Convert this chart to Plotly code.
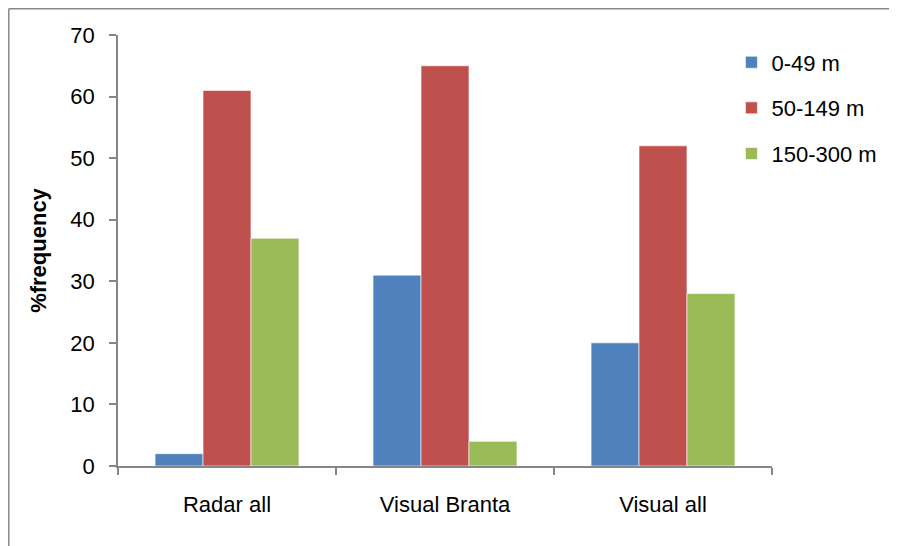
import plotly.graph_objects as go

categories = ["Radar all", "Visual Branta", "Visual all"]
series_names = ["0-49 m", "50-149 m", "150-300 m"]
v_0_49 = [2, 31, 20]
v_50_149 = [61, 65, 52]
v_150_300 = [37, 4, 28]
colors = ["#4F81BD", "#C0504D", "#9BBB59"]
y_ticks = [0, 10, 20, 30, 40, 50, 60, 70]

FONT = "Liberation Sans, Arial, sans-serif"
fig = go.Figure()
for i, (name, vals) in enumerate(zip(series_names, [v_0_49, v_50_149, v_150_300])):
    fig.add_trace(go.Bar(
        x=categories, y=vals, name=name, legendgroup=name,
        marker=dict(color=colors[i], line=dict(color="rgba(255,255,255,0.6)", width=1)),
    ))

fig.update_layout(
    width=897, height=546,
    margin=dict(l=110, r=133, t=27, b=88),
    paper_bgcolor="white", plot_bgcolor="white",
    barmode="group", bargap=0.34, bargroupgap=0,
    font=dict(family=FONT, size=22, color="black"),
    legend=dict(x=0.938, y=0.985, xanchor="left", yanchor="top",
                traceorder="grouped", tracegroupgap=14,
                font=dict(size=22), itemwidth=30, bgcolor="rgba(0,0,0,0)"),
    showlegend=True,
)
fig.update_xaxes(
    type="category", showline=True, linecolor="#868686", linewidth=1.5,
    ticks="outside", tickson="boundaries", ticklen=7, tickcolor="#868686",
    tickwidth=1.5, showgrid=False, ticklabelstandoff=18,
    tickfont=dict(size=22),
)
fig.update_yaxes(
    range=[0, 70], tickvals=y_ticks, showline=True, linecolor="#868686",
    linewidth=1.5, ticks="outside", ticklen=7, tickcolor="#868686", tickwidth=1.5,
    showgrid=False, zeroline=False, ticklabelstandoff=10,
    tickfont=dict(size=22),
    title=dict(text="<b>%frequency</b>", font=dict(size=22), standoff=18),
)
# chart-area frame: top and left edges (right/bottom fall outside the window)
fig.add_shape(type="line", xref="paper", yref="paper",
              x0=-0.167, x1=1.4, y0=1.061, y1=1.061,
              line=dict(color="#888888", width=1.5), layer="below")
fig.add_shape(type="line", xref="paper", yref="paper",
              x0=-0.167, x1=-0.167, y0=-0.4, y1=1.061,
              line=dict(color="#888888", width=1.5), layer="below")

fig.write_html("out.html")
